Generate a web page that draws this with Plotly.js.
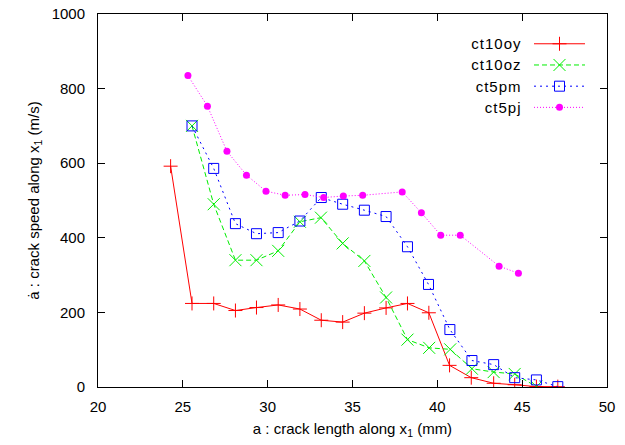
<!DOCTYPE html>
<html>
<head>
<meta charset="utf-8">
<script src="https://cdn.plot.ly/plotly-3.0.1.min.js"></script>
<style>
html,body{margin:0;padding:0;background:#fff;}
#chart{width:625px;height:445px;}
#chart .legend .legendtext{font-size:15px !important;letter-spacing:1px;}
</style>
</head>
<body>
<div id="chart"></div>
<script>
// series names
const seriesNames = ["ct10oy", "ct10oz", "ct5pm", "ct5pj"];

// ct10oy
const xCt10oy = [24.28, 25.54, 26.82, 28.1, 29.34, 30.62, 31.9, 33.16, 34.42, 35.7, 36.98, 38.24, 39.5, 40.72, 42.0, 43.32, 44.56, 45.84, 47.1];
const yCt10oy = [592, 224, 224, 205, 213, 220, 209, 179, 174, 198, 212, 224, 199, 58, 25, 10, 6, 1, 1];

// ct10oz
const xCt10oz = [25.54, 26.82, 28.1, 29.34, 30.62, 31.9, 33.14, 34.42, 35.7, 36.98, 38.24, 39.52, 40.76, 42.04, 43.32, 44.56, 45.84];
const yCt10oz = [700, 490, 340, 340, 365, 443, 454, 385, 338, 240, 127, 105, 101, 49, 40, 35, 1];

// ct5pm
const xCt5pm = [25.54, 26.82, 28.1, 29.34, 30.62, 31.9, 33.16, 34.42, 35.7, 36.98, 38.24, 39.48, 40.74, 42.04, 43.32, 44.56, 45.84, 47.1];
const yCt5pm = [700, 586, 438, 411, 414, 445, 508, 490, 474, 457, 376, 275, 154, 71, 60, 25, 19, 1];

// ct5pj
const xCt5pj = [25.3, 26.45, 27.6, 28.75, 29.9, 31.03, 32.2, 33.3, 34.46, 35.6, 37.93, 39.06, 40.2, 41.35, 43.64, 44.78];
const yCt5pj = [835, 753, 632, 568, 525, 514, 516, 508, 512, 514, 523, 467, 407, 407, 324, 305];

// axis ticks
const xTicks = [20, 25, 30, 35, 40, 45, 50];
const yTicks = [0, 200, 400, 600, 800, 1000];

const FONT = "Liberation Sans, Arial, Helvetica, sans-serif";

const traces = [
  {x: xCt10oy, y: yCt10oy, name: seriesNames[0], mode: "lines+markers", type: "scatter",
   line: {color: "#ff0000", width: 1, dash: "solid"},
   marker: {symbol: "cross-thin", size: 10, color: "#ff0000", line: {color: "#ff0000", width: 1}}},
  {x: xCt10oz, y: yCt10oz, name: seriesNames[1], mode: "lines+markers", type: "scatter",
   line: {color: "#00ee00", width: 1, dash: "5px,3px"},
   marker: {symbol: "x-thin", size: 12, color: "#00ee00", line: {color: "#00ee00", width: 1}}},
  {x: xCt5pm, y: yCt5pm, name: seriesNames[2], mode: "lines+markers", type: "scatter",
   line: {color: "#0000ff", width: 1, dash: "2px,4px"},
   marker: {symbol: "square-open", size: 10, color: "#0000ff", line: {color: "#0000ff", width: 1}}},
  {x: xCt5pj, y: yCt5pj, name: seriesNames[3], mode: "lines+markers", type: "scatter",
   line: {color: "#ff00ff", width: 1, dash: "1px,2px"},
   marker: {symbol: "circle", size: 7, color: "#ff00ff", line: {width: 0}}}
];

const layout = {
  width: 625, height: 445,
  margin: {l: 98, r: 18, t: 14, b: 58, pad: 0, autoexpand: false},
  paper_bgcolor: "#fff", plot_bgcolor: "#fff",
  font: {family: FONT, size: 15, color: "#000"},
  showlegend: true,
  legend: {
    x: 0.8674, xanchor: "left", y: 0.962, yanchor: "top",
    bgcolor: "rgba(0,0,0,0)", borderwidth: 0, tracegroupgap: 0,
    font: {family: FONT, size: 14, color: "#000"}
  },
  xaxis: {
    range: [20, 50], tickvals: xTicks, ticktext: xTicks.map(String),
    ticks: "inside", ticklen: 7, tickwidth: 1, tickcolor: "#000",
    showline: true, linecolor: "#000", linewidth: 1, mirror: "ticks",
    showgrid: false, zeroline: false, ticklabelstandoff: 6,
    tickfont: {family: FONT, size: 15, color: "#000"},
    title: {text: "a : crack length along x<sub>1</sub> (mm)", standoff: 9,
            font: {family: FONT, size: 15, color: "#000"}}
  },
  yaxis: {
    range: [0, 1000], tickvals: yTicks, ticktext: yTicks.map(String),
    ticks: "inside", ticklen: 7, tickwidth: 1, tickcolor: "#000",
    showline: true, linecolor: "#000", linewidth: 1, mirror: "ticks",
    showgrid: false, zeroline: false, ticklabelstandoff: 9,
    tickfont: {family: FONT, size: 15, color: "#000"},
    title: {text: "ȧ : crack speed along x<sub>1</sub> (m/s)", standoff: 8,
            font: {family: FONT, size: 15, color: "#000"}}
  }
};

Plotly.newPlot("chart", traces, layout, {staticPlot: true, displayModeBar: false}).then(function (gd) {
  // gnuplot-style legend: text to the left of a longer sample line
  gd.querySelectorAll(".legend .scrollbox").forEach(function (s) { s.removeAttribute("clip-path"); });
  gd.querySelectorAll(".legend .traces").forEach(function (t) {
    const txt = t.querySelector(".legendtext");
    if (txt) { txt.setAttribute("x", -18); txt.setAttribute("text-anchor", "end"); }
    t.querySelectorAll(".legendlines path").forEach(function (p) { p.setAttribute("d", "M-5.5,0h51"); });
  });
});
</script>
</body>
</html>
